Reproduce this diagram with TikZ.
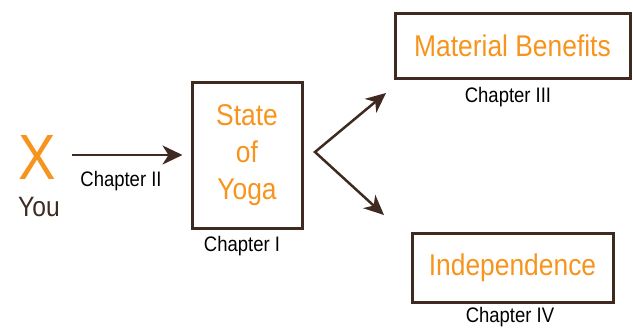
\documentclass[tikz,border=0pt]{standalone}
\usepackage{fontspec}
\setmainfont[FakeStretch=0.88]{Liberation Sans}
\usetikzlibrary{arrows.meta}
\definecolor{yorange}{HTML}{F7941D}
\definecolor{ybrown}{HTML}{3F2A22}
\tikzset{
  box/.style={draw=ybrown, line width=3pt, inner sep=0pt, text=yorange, font=\fontsize{30}{37}\selectfont, align=center},
  chap/.style={font=\fontsize{21}{24}\selectfont, text=black, inner sep=0pt},
  arr/.style={draw=ybrown, line width=2.5pt, -{Stealth[length=20pt, width=19pt, inset=6pt]}},
  barr/.style={draw=ybrown, line width=2.5pt, line join=miter, {Stealth[length=20pt, width=18pt, inset=6pt]}-{Stealth[length=20pt, width=18pt, inset=6pt]}}
}
\begin{document}
\begin{tikzpicture}[x=1pt,y=-1pt]
\useasboundingbox (0,0) rectangle (633,330);
\node[text=yorange, font=\fontsize{64}{64}\selectfont, inner sep=0pt] (x) at (37,157) {X};
\node[text=ybrown, font=\fontsize{28}{30}\selectfont, inner sep=0pt] (you) at (39,207) {You};
\node[box, minimum width=110pt, minimum height=146pt] (yoga) at (247,155) {State\\of\\Yoga};
\node[box, minimum width=235pt, minimum height=65pt] (mat) at (512.5,45.5) {Material Benefits};
\node[box, minimum width=201pt, minimum height=69pt] (ind) at (512.5,267.5) {Independence};
\node[chap] (c2) at (121,181) {Chapter II};
\node[chap] (c1) at (242,246) {Chapter I};
\node[chap] (c3) at (508,97) {Chapter III};
\node[chap] (c4) at (510,317) {Chapter IV};
\coordinate (a1) at (72,155);
\coordinate (v) at (315,152);
\coordinate (t1) at (386,93);
\coordinate (t2) at (384,215);
\draw[arr] (a1) -- ([xshift=-8pt]yoga.west);
\draw[barr] (t1) -- (v) -- (t2);
\end{tikzpicture}
\end{document}
